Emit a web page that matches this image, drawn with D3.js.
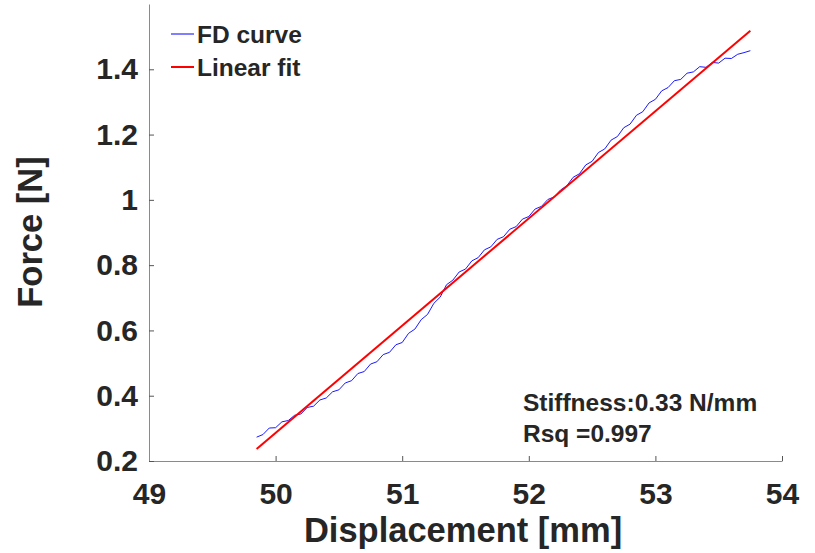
<!DOCTYPE html>
<html>
<head>
<meta charset="utf-8">
<script src="https://cdn.jsdelivr.net/npm/d3@7"></script>
<style>
    body { margin: 0; background: #fff; }
    svg text { font-family: "Liberation Sans", Arial, sans-serif; font-weight: bold; fill: #262626; }
</style>
</head>
<body>
<svg id="chart" width="815" height="553"></svg>
<script>
// measured force-displacement curve
var fdX = [49.85, 49.90, 49.95, 50.00, 50.05, 50.10, 50.15, 50.20, 50.25, 50.30,
           50.35, 50.40, 50.45, 50.50, 50.55, 50.60, 50.65, 50.70, 50.75, 50.80,
           50.85, 50.90, 50.95, 51.00, 51.05, 51.10, 51.15, 51.20, 51.25, 51.30,
           51.35, 51.40, 51.45, 51.50, 51.55, 51.60, 51.65, 51.70, 51.75, 51.80,
           51.85, 51.90, 51.95, 52.00, 52.05, 52.10, 52.15, 52.20, 52.25, 52.30,
           52.35, 52.40, 52.45, 52.50, 52.55, 52.60, 52.65, 52.70, 52.75, 52.80,
           52.85, 52.90, 52.95, 53.00, 53.05, 53.10, 53.15, 53.20, 53.25, 53.30,
           53.35, 53.40, 53.45, 53.50, 53.55, 53.60, 53.65, 53.70, 53.75];
var fdY = [0.273, 0.281, 0.301, 0.302, 0.320, 0.324, 0.340, 0.344, 0.364, 0.368,
           0.387, 0.393, 0.412, 0.418, 0.439, 0.446, 0.468, 0.474, 0.497, 0.504,
           0.526, 0.533, 0.556, 0.563, 0.591, 0.604, 0.633, 0.649, 0.683, 0.702,
           0.740, 0.754, 0.779, 0.788, 0.813, 0.823, 0.847, 0.856, 0.879, 0.887,
           0.910, 0.918, 0.941, 0.949, 0.972, 0.980, 1.001, 1.009, 1.030, 1.043,
           1.069, 1.080, 1.107, 1.118, 1.145, 1.156, 1.183, 1.194, 1.221, 1.232,
           1.259, 1.270, 1.297, 1.308, 1.334, 1.344, 1.365, 1.369, 1.388, 1.392,
           1.408, 1.406, 1.421, 1.419, 1.434, 1.433, 1.446, 1.451, 1.457];

// linear fit end points
var fitX = [49.85, 53.75];
var fitY = [0.237, 1.518];

var xTicks = [49, 50, 51, 52, 53, 54];
var yTicks = [0.2, 0.4, 0.6, 0.8, 1, 1.2, 1.4];
var legendLabels = ["FD curve", "Linear fit"];
var notes = ["Stiffness:0.33 N/mm", "Rsq =0.997"];

var margin = {left: 149, top: 4, right: 33, bottom: 92};
var svg = d3.select("#chart");
var width = 815 - margin.left - margin.right,
    height = 553 - margin.top - margin.bottom;

var x = d3.scaleLinear().domain([49, 54]).range([0, width]);
var y = d3.scaleLinear().domain([0.2, 1.6]).range([height, 0]);

var g = svg.append("g")
    .attr("transform", "translate(" + margin.left + "," + margin.top + ")");

// axes
var xAxis = g.append("g")
    .attr("transform", "translate(0," + height + ")")
    .call(d3.axisBottom(x).tickValues(xTicks).tickSizeInner(-5).tickSizeOuter(0).tickPadding(14).tickFormat(d3.format("~g")));
var yAxis = g.append("g")
    .call(d3.axisLeft(y).tickValues(yTicks).tickSizeInner(-5).tickSizeOuter(0).tickPadding(11).tickFormat(d3.format("~g")));

[xAxis, yAxis].forEach(function(a) {
    a.select(".domain").attr("stroke", "#8a8a8a");
    a.selectAll(".tick line").attr("stroke", "#555");
    a.selectAll(".tick text").style("font-size", "30px").attr("fill", "#262626");
});
xAxis.selectAll(".tick text").attr("dy", "0.95em");

// FD curve
var line = d3.line()
    .x(function(d) { return x(d[0]); })
    .y(function(d) { return y(d[1]); });

g.append("path")
    .datum(fdX.map(function(v, i) { return [v, fdY[i]]; }))
    .attr("d", line)
    .attr("fill", "none")
    .attr("stroke", "#0000ff")
    .attr("stroke-width", 0.9);

g.append("path")
    .datum(fitX.map(function(v, i) { return [v, fitY[i]]; }))
    .attr("d", line)
    .attr("fill", "none")
    .attr("stroke", "#ff0000")
    .attr("stroke-width", 2);

// legend
var legendColors = ["#0000ff", "#ff0000"];
var leg = svg.append("g").attr("transform", "translate(171,34)");
legendLabels.forEach(function(lbl, i) {
    leg.append("line")
        .attr("x1", 0).attr("x2", 23)
        .attr("y1", i * 33).attr("y2", i * 33)
        .attr("stroke", legendColors[i])
        .attr("stroke-width", i === 0 ? 1 : 2);
    leg.append("text")
        .attr("x", 26).attr("y", i * 33)
        .attr("dy", "0.35em")
        .style("font-size", "24.5px")
        .attr("fill", "#000")
        .text(lbl);
});

// annotation
notes.forEach(function(t, i) {
    svg.append("text")
        .attr("x", 523).attr("y", 411 + i * 31)
        .style("font-size", "24.5px")
        .attr("fill", "#000")
        .text(t);
});

// axis titles
svg.append("text")
    .attr("x", 463).attr("y", 542)
    .attr("text-anchor", "middle")
    .style("font-size", "34.5px")
    .text("Displacement [mm]");

svg.append("text")
    .attr("transform", "translate(42,232) rotate(-90)")
    .attr("text-anchor", "middle")
    .style("font-size", "34.5px")
    .text("Force [N]");
</script>
</body>
</html>
